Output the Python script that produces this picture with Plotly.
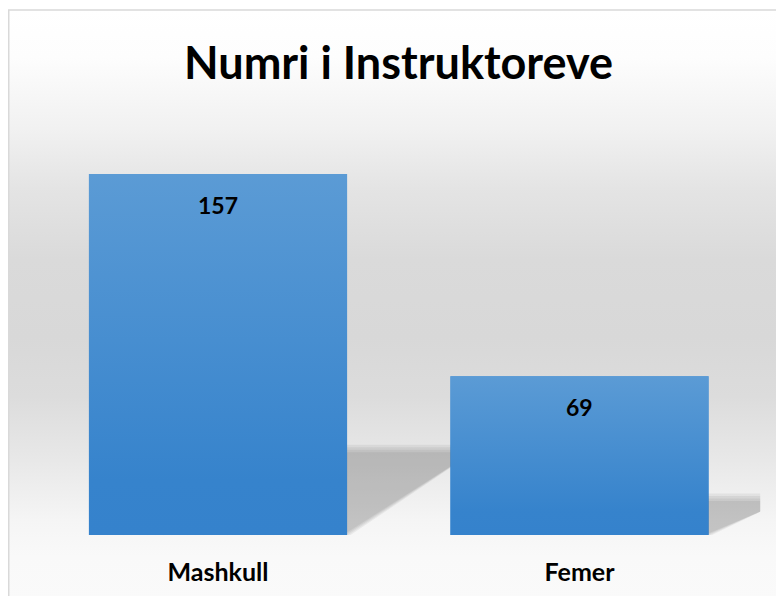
import plotly.graph_objects as go

# ---- data ----
categories = ["Mashkull", "Femer"]
values = [157, 69]
title_text = "Numri i Instruktoreve"

W, H = 784, 596
FONT = "Lato"
OFF = 8  # page body margin offset

fig = go.Figure()

# ---- background (pixel coordinates on x/y) ----
fig.add_trace(go.Scatter(
    x=[0, W, W, 0, 0], y=[2, 2, H, H, 2], mode="lines", fill="toself",
    line=dict(width=0), hoverinfo="skip", showlegend=False,
    fillgradient=dict(type="vertical", start=2, stop=H, colorscale=[
        [0.0, "#ffffff"], [0.08, "#fdfdfd"], [0.2, "#f1f1f1"], [0.3, "#e4e4e4"],
        [0.42, "#dadada"], [0.55, "#d8d8d8"], [0.65, "#dcdcdc"], [0.75, "#e7e7e7"],
        [0.86, "#f5f5f5"], [0.92, "#f9f9f9"], [1.0, "#fafafa"]]),
    xaxis="x", yaxis="y"))

# ---- data subplot (x2/y2) ----
bar_w = 0.714
px_x = 361.5          # pixels per x unit
px_y = 2.3            # pixels per y unit

fig.add_trace(go.Bar(x=list(range(len(categories))), y=values, width=bar_w,
                     marker=dict(color="#4a90d4", line=dict(width=0)),
                     hoverinfo="skip", showlegend=False, xaxis="x2", yaxis="y2"))

# shadows
for i, v in enumerate(values):
    dy = 0.24 * v
    dx = 0.13 + 0.0015 * v
    for e in (-4, -1.5, 1, 3.5):
        ex = e / px_x
        ey = e / px_y
        xl, xr = i - bar_w / 2, i + bar_w / 2
        xs = [xl, xr + ex, xr + dx + ex * 1.6, xl + dx, xl]
        ys = [0, 0, dy + ey, dy + ey, 0]
        fig.add_trace(go.Scatter(x=xs, y=ys, mode="lines", fill="toself",
                                 line=dict(width=0), fillcolor="rgba(0,0,0,0.055)",
                                 hoverinfo="skip", showlegend=False,
                                 xaxis="x2", yaxis="y2"))

# gradient bar faces
for i, v in enumerate(values):
    xl, xr = i - bar_w / 2, i + bar_w / 2
    fig.add_trace(go.Scatter(
        x=[xl, xr, xr, xl, xl], y=[0, 0, v, v, 0], mode="lines", fill="toself",
        line=dict(width=0), hoverinfo="skip", showlegend=False,
        fillgradient=dict(type="vertical", start=0, stop=v, colorscale=[
            [0.0, "#3582cc"], [0.15, "#3683cc"], [1.0, "#5b9bd5"]]),
        xaxis="x2", yaxis="y2"))

# data labels
for i, v in enumerate(values):
    fig.add_annotation(x=i, y=v, xref="x2", yref="y2", text=str(v), showarrow=False,
                       yshift=-31, yanchor="middle",
                       font=dict(family=FONT, size=23, color="#000000", weight="bold"))

# title
fig.add_annotation(x=(398 - OFF) / W, y=1 - (62 - OFF) / H, xref="paper", yref="paper",
                   text=title_text, showarrow=False, xanchor="center", yanchor="middle",
                   font=dict(family=FONT, size=45, color="#000000", weight="bold"))

x0, x1 = 37.25 - OFF, 760.25 - OFF
y_bottom = 535 - OFF
y_top = y_bottom - 180 * px_y
fig.update_layout(
    width=W, height=H, margin=dict(l=0, r=0, t=0, b=0),
    paper_bgcolor="#ffffff", plot_bgcolor="rgba(0,0,0,0)",
    showlegend=False,
    xaxis=dict(domain=[0, 1], range=[0, W], visible=False, fixedrange=True),
    yaxis=dict(domain=[0, 1], range=[H, 0], visible=False, fixedrange=True),
    xaxis2=dict(domain=[x0 / W, x1 / W], range=[-0.5, len(categories) - 0.5],
                anchor="y2", tickvals=list(range(len(categories))), ticktext=categories,
                showgrid=False, zeroline=False, showline=False, ticks="",
                ticklabelstandoff=20,
                tickfont=dict(family=FONT, size=25, color="#000000", weight="bold"),
                fixedrange=True),
    yaxis2=dict(domain=[(H - y_bottom) / H, (H - y_top) / H], range=[0, 180],
                anchor="x2", visible=False, showgrid=False, zeroline=False,
                fixedrange=True),
    shapes=[
        dict(type="line", xref="paper", yref="paper", x0=0.75 / W, x1=0.75 / W,
             y0=0, y1=1 - 2 / H, line=dict(color="#d9d9d9", width=1.5)),
        dict(type="line", xref="paper", yref="paper", x0=0, x1=1,
             y0=1 - 2 / H, y1=1 - 2 / H, line=dict(color="#d9d9d9", width=1.5)),
    ],
)

fig.write_html("out.html")
